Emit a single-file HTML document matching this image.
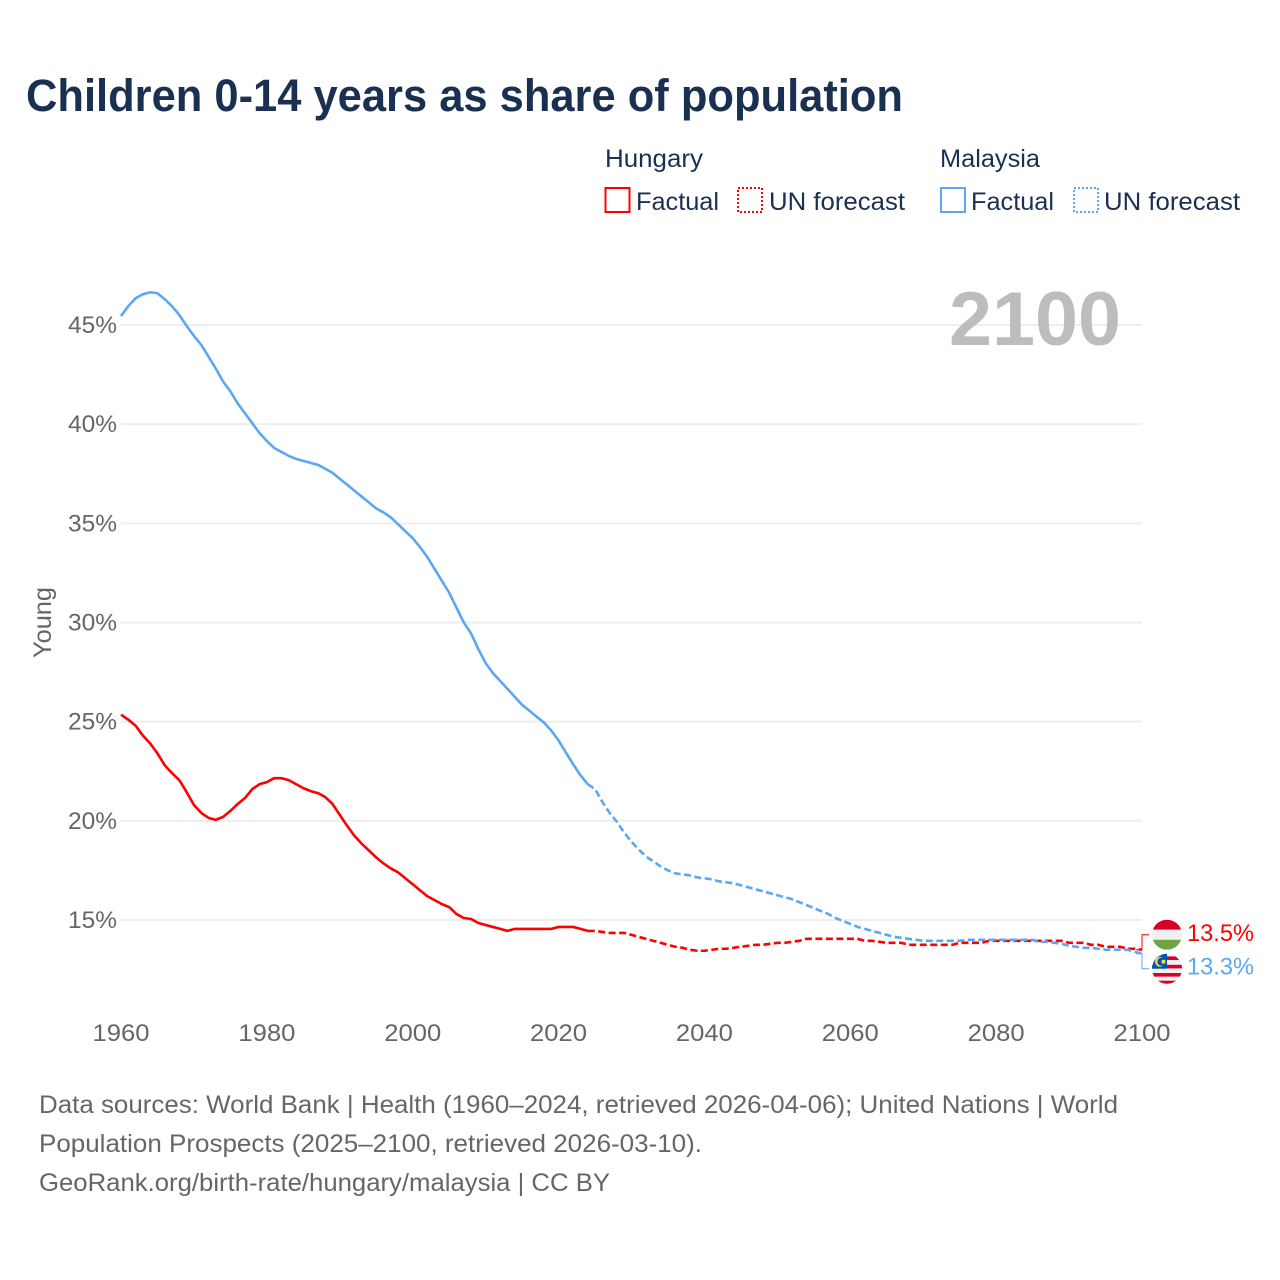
<!DOCTYPE html>
<html lang="en">
<head>
<meta charset="utf-8">
<title>Children 0-14 years as share of population</title>
<style>
html,body{margin:0;padding:0;background:#fff}
svg{display:block}
text{font-family:"Liberation Sans",sans-serif}
</style>
</head>
<body>
<svg id="chart" xmlns="http://www.w3.org/2000/svg" width="1280" height="1280" viewBox="0 0 1280 1280">
  <rect width="1280" height="1280" fill="#fff"/>
  <defs>
    <clipPath id="clip-hu"><circle cx="0" cy="0" r="15"/></clipPath>
    <clipPath id="clip-my"><circle cx="0" cy="0" r="15"/></clipPath>
  </defs>
  <text x="26" y="111" font-size="45" font-weight="700" fill="#1a3050" textLength="877" lengthAdjust="spacingAndGlyphs">Children 0-14 years as share of population</text>

  <g font-size="25" fill="#1a3050">
    <text x="605" y="167" textLength="98" lengthAdjust="spacingAndGlyphs">Hungary</text>
    <rect x="605.5" y="188" width="24" height="24" fill="none" stroke="#ff0000" stroke-width="2"/>
    <text x="636" y="210" textLength="83" lengthAdjust="spacingAndGlyphs">Factual</text>
    <rect x="738" y="188" width="24" height="24" fill="none" stroke="#ff0000" stroke-width="2" stroke-dasharray="2 2"/>
    <text x="769" y="210" textLength="136" lengthAdjust="spacingAndGlyphs">UN forecast</text>
    <text x="940" y="167" textLength="100" lengthAdjust="spacingAndGlyphs">Malaysia</text>
    <rect x="941" y="188" width="24" height="24" fill="none" stroke="#5ba8f0" stroke-width="2"/>
    <text x="971" y="210" textLength="83" lengthAdjust="spacingAndGlyphs">Factual</text>
    <rect x="1074" y="188" width="24" height="24" fill="none" stroke="#5ba8f0" stroke-width="2" stroke-dasharray="2 2"/>
    <text x="1104" y="210" textLength="136" lengthAdjust="spacingAndGlyphs">UN forecast</text>
  </g>

  <g id="grid"></g>
  <g id="ytick"></g>
  <g id="xtick"></g>
  <text transform="translate(51,622.5) rotate(-90)" text-anchor="middle" font-size="25" fill="#666" textLength="71" lengthAdjust="spacingAndGlyphs">Young</text>
  <text x="949" y="345" font-size="76" font-weight="700" fill="#bdbdbd" textLength="172" lengthAdjust="spacingAndGlyphs">2100</text>

  <g id="series"></g>
  <g id="ends"></g>

  <g font-size="25" fill="#666">
    <text x="39" y="1113" textLength="1079" lengthAdjust="spacingAndGlyphs">Data sources: World Bank | Health (1960–2024, retrieved 2026-04-06); United Nations | World</text>
    <text x="39" y="1152" textLength="663" lengthAdjust="spacingAndGlyphs">Population Prospects (2025–2100, retrieved 2026-03-10).</text>
    <text x="39" y="1191" textLength="571" lengthAdjust="spacingAndGlyphs">GeoRank.org/birth-rate/hungary/malaysia | CC BY</text>
  </g>
</svg>
<script>
const yTicks = [15, 20, 25, 30, 35, 40, 45];
const xTicks = [1960, 1980, 2000, 2020, 2040, 2060, 2080, 2100];
const factualStart = 1960;
const forecastStart = 2024;
const hungaryFactual = [25.35,25.1,24.8,24.3,23.9,23.4,22.8,22.4,22.05,21.45,20.8,20.4,20.15,20.05,20.2,20.5,20.85,21.15,21.6,21.85,21.95,22.15,22.15,22.05,21.85,21.65,21.5,21.4,21.2,20.85,20.3,19.75,19.25,18.85,18.5,18.15,17.85,17.6,17.4,17.1,16.8,16.5,16.2,16.0,15.8,15.65,15.3,15.1,15.05,14.85,14.75,14.65,14.55,14.45,14.55,14.55,14.55,14.55,14.55,14.55,14.65,14.65,14.65,14.55,14.45];
const hungaryForecast = [14.45,14.45,14.4,14.35,14.35,14.35,14.25,14.15,14.05,13.95,13.85,13.75,13.65,13.6,13.5,13.45,13.45,13.5,13.55,13.55,13.6,13.65,13.7,13.75,13.75,13.8,13.85,13.85,13.9,13.95,14.05,14.05,14.05,14.05,14.05,14.05,14.05,14.05,13.95,13.95,13.9,13.85,13.85,13.85,13.75,13.75,13.75,13.75,13.75,13.75,13.75,13.85,13.85,13.85,13.85,13.95,13.95,13.95,13.95,13.95,13.95,13.95,13.95,13.95,13.95,13.95,13.85,13.85,13.85,13.75,13.75,13.65,13.65,13.65,13.55,13.55,13.5];
const malaysiaFactual = [45.45,45.95,46.35,46.55,46.65,46.6,46.3,45.95,45.5,44.95,44.45,44.0,43.4,42.8,42.15,41.65,41.05,40.55,40.05,39.55,39.15,38.8,38.6,38.4,38.25,38.15,38.05,37.95,37.75,37.55,37.25,36.95,36.65,36.35,36.05,35.75,35.55,35.3,34.95,34.6,34.25,33.8,33.3,32.7,32.1,31.5,30.75,30.0,29.45,28.65,27.95,27.45,27.05,26.65,26.25,25.85,25.55,25.25,24.95,24.55,24.05,23.45,22.85,22.3,21.85];
const malaysiaForecast = [21.85,21.6,20.95,20.4,19.95,19.4,18.95,18.55,18.2,17.95,17.7,17.5,17.35,17.3,17.25,17.15,17.1,17.05,16.95,16.9,16.85,16.75,16.65,16.55,16.45,16.35,16.25,16.15,16.05,15.9,15.75,15.6,15.45,15.3,15.1,14.95,14.8,14.65,14.55,14.45,14.35,14.25,14.15,14.1,14.05,14.0,13.95,13.95,13.95,13.95,13.95,13.95,14.0,14.0,14.0,14.0,14.0,14.0,14.0,14.0,14.0,14.0,13.9,13.9,13.85,13.8,13.7,13.65,13.6,13.6,13.55,13.5,13.5,13.5,13.5,13.4,13.3];

const NS = 'http://www.w3.org/2000/svg';
function xScale(year){ return 121 + (year - 1960) * (1142 - 121) / 140; }
function yScale(v){ return 920 - (v - 15) * (920 - 325) / 30; }
function make(tag, attrs, parent){
  const el = document.createElementNS(NS, tag);
  for (const k in attrs) el.setAttribute(k, attrs[k]);
  parent.appendChild(el);
  return el;
}
function pathFor(values, start){
  return values.map(function(v, i){
    return (i ? 'L' : 'M') + xScale(start + i).toFixed(2) + ' ' + yScale(v).toFixed(2);
  }).join('');
}

const grid = document.getElementById('grid');
const yG = document.getElementById('ytick');
const xG = document.getElementById('xtick');
yTicks.forEach(function(t){
  const line = make('line', {x1:121, x2:1142, y1:yScale(t), y2:yScale(t), stroke:'#eeeeee', 'stroke-width':2}, grid);
  
  
  const label = make('text', {x:68, y:yScale(t) + 8, 'font-size':24, fill:'#666', textLength:49, lengthAdjust:'spacingAndGlyphs'}, yG);
  
  
  label.textContent = t + '%';
});
xTicks.forEach(function(t){
  const label = make('text', {x:xScale(t) - 28.5, y:1041, 'font-size':24, fill:'#666', textLength:57, lengthAdjust:'spacingAndGlyphs'}, xG);
  
  
  label.textContent = t;
});

const seriesG = document.getElementById('series');
const huF = make('path', {d:pathFor(hungaryFactual, factualStart), fill:'none', stroke:'#ff0000', 'stroke-width':2.6, 'stroke-linejoin':'round'}, seriesG);


const huP = make('path', {d:pathFor(hungaryForecast, forecastStart), fill:'none', stroke:'#ff0000', 'stroke-width':2.6, 'stroke-dasharray':'7 3.5'}, seriesG);


const myF = make('path', {d:pathFor(malaysiaFactual, factualStart), fill:'none', stroke:'#5ba8f0', 'stroke-width':2.6, 'stroke-linejoin':'round'}, seriesG);


const myP = make('path', {d:pathFor(malaysiaForecast, forecastStart), fill:'none', stroke:'#5ba8f0', 'stroke-width':2.6, 'stroke-dasharray':'7 3.5'}, seriesG);



/* end-of-line connectors, flags and value labels */
const ends = document.getElementById('ends');
const huEnd = hungaryForecast[hungaryForecast.length - 1];
const myEnd = malaysiaForecast[malaysiaForecast.length - 1];
const huY = yScale(huEnd), myY = yScale(myEnd);
const huFlagY = huY - 15, myFlagY = myY + 15;
const c1 = make('path', {d:'M1136 ' + huY + 'H1142V' + huFlagY + 'H1149', fill:'none', stroke:'#ff0000', 'stroke-width':1}, ends);


const c2 = make('path', {d:'M1136 ' + myY + 'H1142V' + myFlagY + 'H1149', fill:'none', stroke:'#5ba8f0', 'stroke-width':1}, ends);



const hu = make('g', {transform:'translate(1167,' + huFlagY + ')', 'clip-path':'url(#clip-hu)'}, ends);


make('rect', {x:-15, y:-15, width:30, height:10, fill:'#d80027'}, hu);
make('rect', {x:-15, y:-5, width:30, height:10, fill:'#f0f0f0'}, hu);
make('rect', {x:-15, y:5, width:30, height:10, fill:'#6da544'}, hu);

const my = make('g', {transform:'translate(1167,' + myFlagY + ')', 'clip-path':'url(#clip-my)'}, ends);


make('rect', {x:-15, y:-15, width:30, height:30, fill:'#f0f0f0'}, my);
[-12.3, -3.9, 4.3, 12].forEach(function(offset){
  make('rect', {x:-15, y:offset, width:30, height:3.6, fill:'#d80027'}, my);
});
make('rect', {x:-15, y:-15, width:15, height:15, fill:'#0052b4'}, my);
make('circle', {cx:-7, cy:-7, r:5, fill:'#ffda44'}, my);
make('circle', {cx:-5.4, cy:-7, r:4.2, fill:'#0052b4'}, my);
make('circle', {cx:-3.5, cy:-7, r:2, fill:'#ffda44'}, my);

const huLabel = make('text', {x:1187, y:huFlagY + 6, 'font-size':24, fill:'#ff0000', textLength:67, lengthAdjust:'spacingAndGlyphs'}, ends);


huLabel.textContent = huEnd.toFixed(1) + '%';
const myLabel = make('text', {x:1187, y:myFlagY + 6, 'font-size':24, fill:'#5ba8f0', textLength:67, lengthAdjust:'spacingAndGlyphs'}, ends);


myLabel.textContent = myEnd.toFixed(1) + '%';
</script>
</body>
</html>
